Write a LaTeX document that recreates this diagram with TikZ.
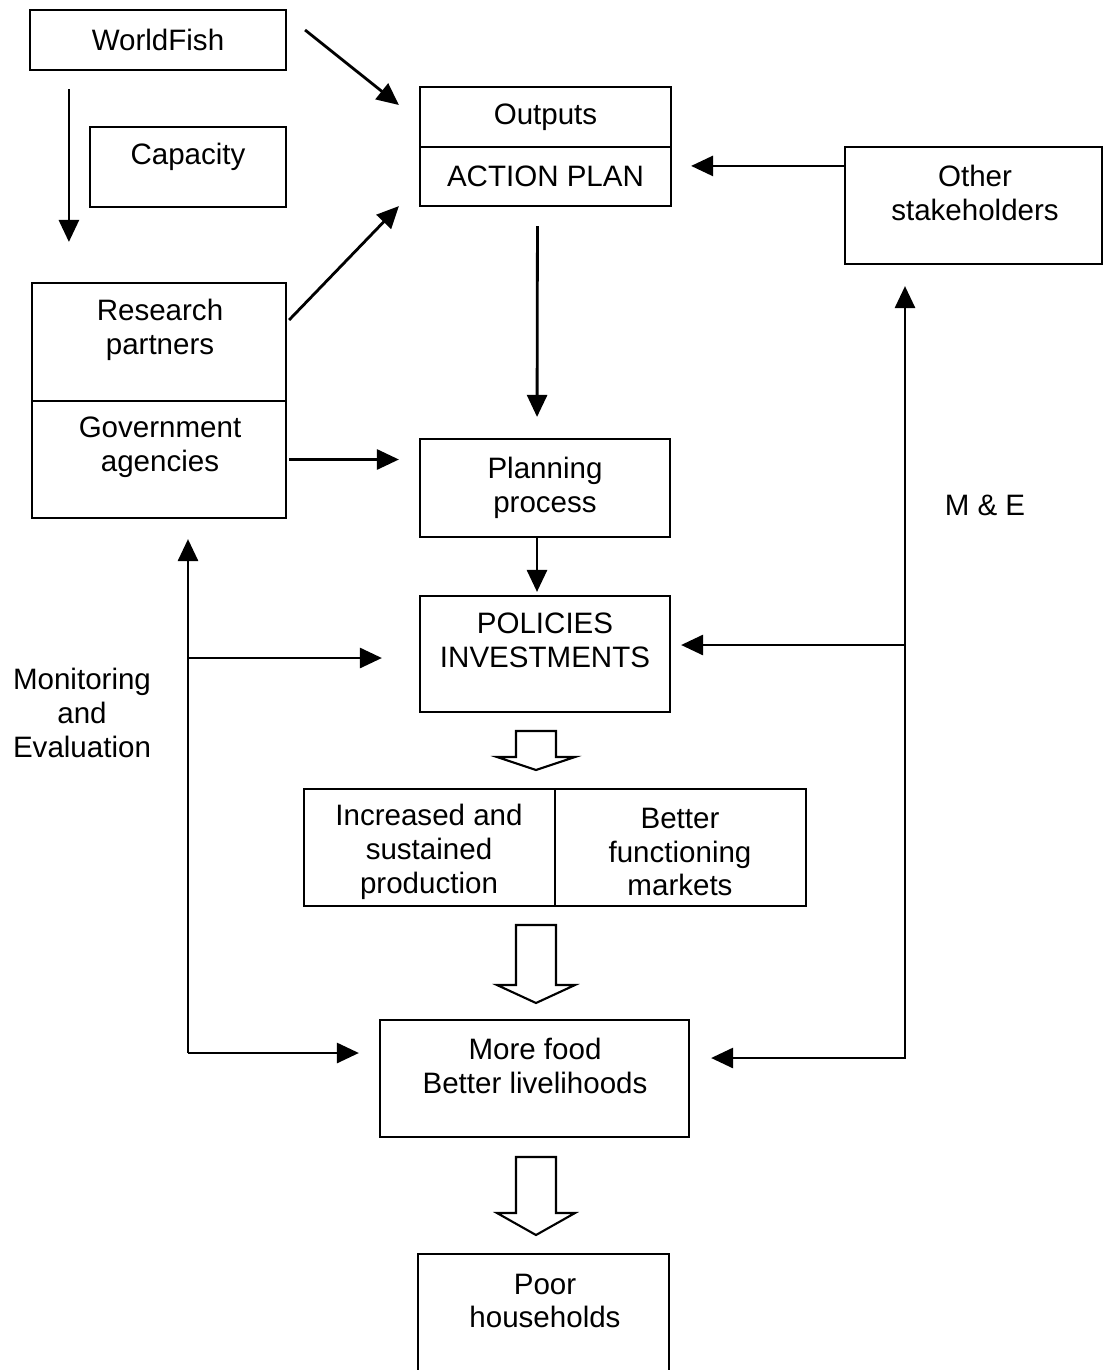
\documentclass[tikz,border=0pt]{standalone}
\usepackage{fontspec}
\setmainfont{Liberation Sans}
\usetikzlibrary{arrows.meta}

\tikzset{
  box/.style={draw, line width=1.5pt, inner sep=0pt, align=center},
  arr/.style={line width=2pt, -{Triangle[length=0.55cm,width=0.5cm]}},
  txt/.style={align=center},
}

\begin{document}
\begin{tikzpicture}[x=0.025cm, y=-0.025cm, font=\fontsize{21}{24}\selectfont]

  % Page frame
  \useasboundingbox (0,0) rectangle (1104,1370);
  \clip (0,0) rectangle (1104,1370);

  % Left column
  \node[box, minimum width=6.4cm, minimum height=1.5cm] (worldfish) at (158,40) {WorldFish};
  \node[box, minimum width=4.9cm, minimum height=2cm] (capacity) at (188,167) {};
  \node[txt] (capacitytxt) at (188,157) {Capacity};
  \node[box, minimum width=6.35cm, minimum height=2.95cm] (research) at (159,342) {};
  \node[txt] (researchtxt) at (160,330) {Research\\partners};
  \node[box, minimum width=6.35cm, minimum height=2.925cm] (gov) at (159,459.5) {};
  \node[txt] (govtxt) at (160,447) {Government\\agencies};

  % Middle column
  \node[box, minimum width=6.275cm, minimum height=1.5cm] (outputs) at (545.5,117) {Outputs};
  \node[box, minimum width=6.275cm, minimum height=1.475cm] (action) at (545.5,176.5) {ACTION PLAN};
  \node[box, minimum width=6.25cm, minimum height=2.45cm] (planning) at (545,488) {Planning\\process};
  \node[box, minimum width=6.25cm, minimum height=2.9cm] (policies) at (545,654) {};
  \node[txt] (policiestxt) at (545,640) {POLICIES\\INVESTMENTS};
  \node[box, minimum width=6.275cm, minimum height=2.925cm] (increased) at (429.5,847.5) {};
  \node[txt] (increasedtxt) at (429,852) {Increased and\\sustained\\production};
  \node[box, minimum width=6.275cm, minimum height=2.925cm] (markets) at (680.5,847.5) {};
  \node[txt] (marketstxt) at (680,852) {Better\\functioning\\markets};
  \node[box, minimum width=7.725cm, minimum height=2.925cm] (morefood) at (534.5,1078.5) {};
  \node[txt] (morefoodtxt) at (535,1066) {More food\\Better livelihoods};
  \node[box, minimum width=6.275cm, minimum height=3.15cm] (poor) at (543.5,1317) {};
  \node[txt] (poortxt) at (545,1301) {Poor\\households};

  % Right column
  \node[box, minimum width=6.425cm, minimum height=2.925cm] (other) at (973.5,205.5) {};
  \node[txt] (othertxt) at (975,193) {Other\\stakeholders};

  % Side labels
  \node[txt] (melabel) at (985,505) {M \& E};
  \node[txt] (monlabel) at (82,713) {Monitoring\\and\\Evaluation};

  % Arrows into the action plan
  \draw[arr] ([shift={(18,-10)}]worldfish.east) -- ([shift={(-20,-12)}]outputs.west);
  \draw[arr] ([shift={(40,18)}]worldfish.south west) -- ([shift={(38,-40)}]research.north west);
  \draw[arr] ([shift={(2,-22)}]research.east) -- ([shift={(-20,-1)}]action.south west);
  \draw[arr, shorten <=0.05cm, shorten >=0.5cm] (gov.east) -- (gov.east -| planning.west);
  \coordinate (othout) at ([shift={(0,20)}]other.north west);
  \draw[arr, shorten >=0.475cm] (othout) -- (othout -| action.east);

  % Main flow
  \draw[arr, shorten <=0.475cm, shorten >=0.525cm] ([shift={(-8,0)}]action.south) -- ([shift={(-8,0)}]planning.north);
  \draw[arr, shorten >=0.075cm] ([shift={(-8,0)}]planning.south) -- ([shift={(-8,0)}]policies.north);

  % Hollow block arrows
  \foreach \ya/\yb/\yc in {731/757/770, 925/985/1003, 1157/1213/1235}
    \draw[line width=1.5pt] (516,\ya) -- (556,\ya) -- (556,\yb) -- (575,\yb)
      -- (536,\yc) -- (497,\yb) -- (516,\yb) -- cycle;

  % M & E loop on the right
  \coordinate (mejoin) at (905,645);
  \coordinate (mecorner) at (905,1058);
  \draw[arr, shorten >=0.525cm] (mejoin) -- (mejoin |- other.south);
  \draw[arr, shorten >=0.25cm] (mejoin) -- (mejoin -| policies.east);
  \draw[arr, shorten >=0.525cm] (mejoin) -- (mecorner) -- (mecorner -| morefood.east);

  % Monitoring and evaluation loop on the left
  \coordinate (memid) at (188,658);
  \coordinate (mebottom) at (188,1053);
  \draw[arr, shorten >=0.5cm] (mebottom) -- (mebottom |- gov.south);
  \draw[arr, shorten >=0.925cm] (memid) -- (memid -| policies.west);
  \draw[arr, shorten >=0.5cm] (mebottom) -- (mebottom -| morefood.west);

\end{tikzpicture}
\end{document}
